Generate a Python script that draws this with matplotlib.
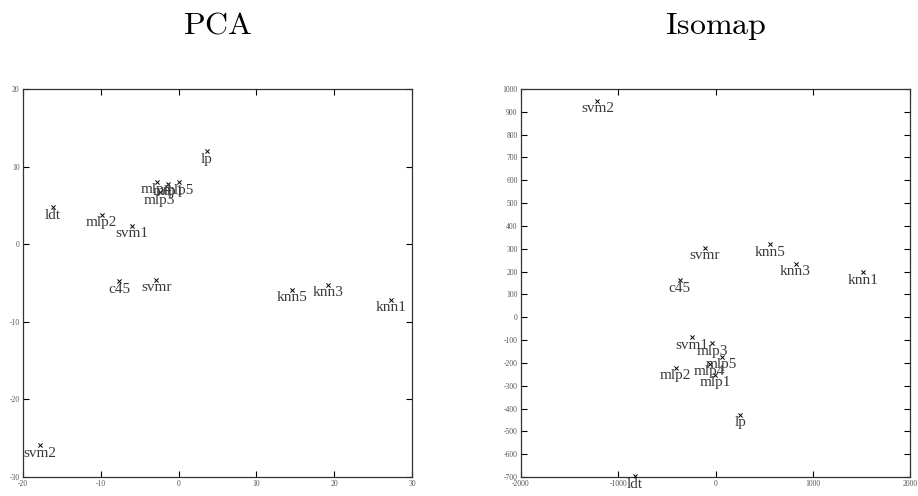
import matplotlib
matplotlib.use("Agg")
import matplotlib.pyplot as plt

plt.rcParams['mathtext.fontset'] = 'cm'
plt.rcParams['font.family'] = ['Liberation Serif', 'DejaVu Serif']

# PCA embedding
pca_names = ["lp", "ldt", "mlp2", "svm1", "mlp4", "mlp1", "mlp5", "mlp3",
             "c45", "svmr", "knn5", "knn3", "knn1", "svm2"]
pca_x = [3.65, -16.14, -9.89, -5.95, -2.8, -1.3, 0.0, -2.45,
         -7.66, -2.86, 14.53, 19.25, 27.34, -17.81]
pca_y = [11.96, 4.74, 3.79, 2.37, 8.05, 7.8, 8.0, 6.7,
         -4.76, -4.55, -5.84, -5.24, -7.17, -25.92]

# Isomap embedding
iso_names = ["svm2", "svmr", "knn5", "knn3", "knn1", "c45", "svm1", "mlp3",
             "mlp5", "mlp4", "mlp2", "mlp1", "lp", "ldt"]
iso_x = [-1214, -110, 559, 823, 1520, -370, -239, -33,
         64, -60, -409, -5, 257, -830]
iso_y = [947, 304, 319, 235, 197, 161, -88, -114,
         -173, -205, -221, -253, -427, -697]

pca_xticks = [-20, -10, 0, 10, 20, 30]
pca_yticks = [-30, -20, -10, 0, 10, 20]
iso_xticks = [-2000, -1000, 0, 1000, 2000]
iso_yticks = list(range(-700, 1001, 100))

W, H = 918, 496
fig = plt.figure(figsize=(W / 100, H / 100), dpi=100)


def make_axes(left_px, title, names, xs, ys, xlim, ylim, xticks, yticks):
    ax = fig.add_axes([left_px / W, (H - 477) / H, 389 / W, 388 / H])
    ax.scatter(xs, ys, marker='x', s=9, color='black', linewidths=0.7, zorder=3)
    for n, x, y in zip(names, xs, ys):
        ax.annotate(n, (x, y), xytext=(0, -1), textcoords='offset points',
                    ha='center', va='top', fontsize=11, color='#3a3a3a',
                    annotation_clip=False)
    ax.set_xlim(*xlim)
    ax.set_ylim(*ylim)
    ax.set_xticks(xticks)
    ax.set_yticks(yticks)
    ax.set_xticklabels([str(t) for t in xticks])
    ax.set_yticklabels([str(t) for t in yticks])
    ax.tick_params(direction='in', length=4, width=0.8, top=True, right=True,
                   labelsize=5.5, labelcolor='#555555', pad=2.5)
    for s in ax.spines.values():
        s.set_linewidth(0.9)
        s.set_color('#333333')
    cx = (left_px + 389 / 2) / W
    fig.text(cx, 1 - 34 / H, r'$\mathrm{%s}$' % title, ha='center',
             va='baseline', fontsize=23)
    return ax


make_axes(23, "PCA", pca_names, pca_x, pca_y, (-20, 30), (-30, 20),
          pca_xticks, pca_yticks)
make_axes(521, "Isomap", iso_names, iso_x, iso_y, (-2000, 2000), (-700, 1000),
          iso_xticks, iso_yticks)

fig.savefig("out.png", dpi=100)
